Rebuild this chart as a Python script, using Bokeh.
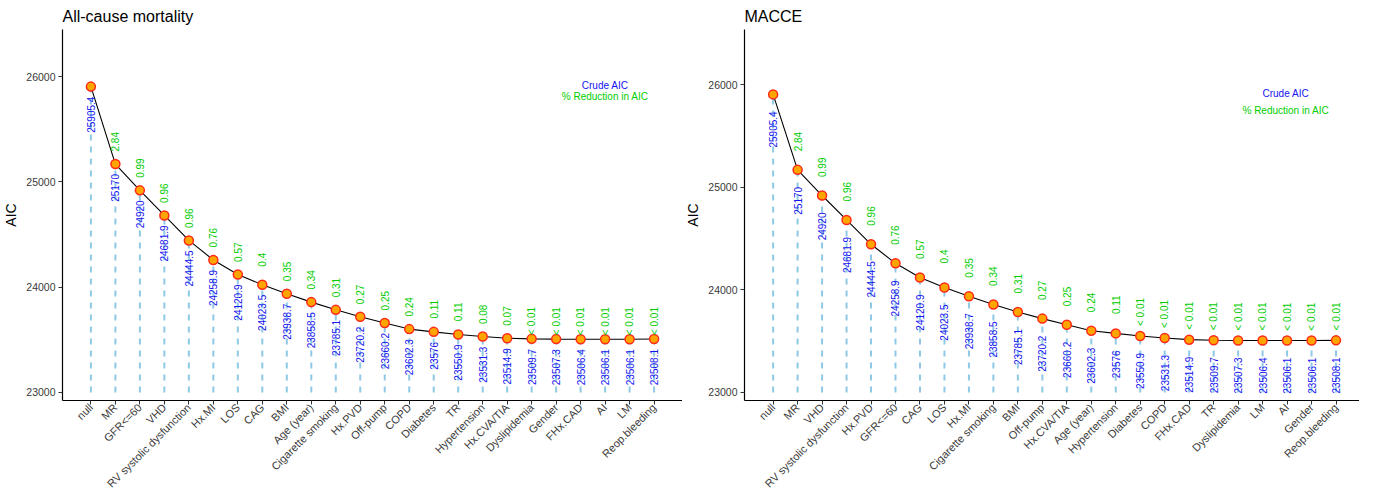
import math
from bokeh.plotting import figure
from bokeh.models import Range1d, FixedTicker, ColumnDataSource
from bokeh.layouts import row
from bokeh.core.properties import value
from bokeh.embed import file_html
from bokeh.resources import INLINE

# ---------------- data ----------------
left_title = "All-cause mortality"
left_categories = ["null", "MR", "GFR<=60", "VHD", "RV systolic dysfunction", "Hx.MI", "LOS",
                   "CAG", "BMI", "Age (year)", "Cigarette smoking", "Hx.PVD", "Off-pump", "COPD",
                   "Diabetes", "TR", "Hypertension", "Hx.CVA/TIA", "Dyslipidemia", "Gender",
                   "FHx.CAD", "AI", "LM", "Reop.bleeding"]
left_aic = [25905.4, 25170, 24920, 24681.9, 24444.5, 24258.9, 24120.9, 24023.5, 23938.7,
            23858.5, 23785.1, 23720.2, 23660.2, 23602.3, 23576, 23550.9, 23531.3, 23514.9,
            23509.7, 23507.3, 23506.4, 23506.1, 23506.1, 23508.1]
left_reduction = ["", "2.84", "0.99", "0.96", "0.96", "0.76", "0.57", "0.4", "0.35", "0.34",
                  "0.31", "0.27", "0.25", "0.24", "0.11", "0.11", "0.08", "0.07", "< 0.01",
                  "< 0.01", "< 0.01", "< 0.01", "< 0.01", "< 0.01"]

right_title = "MACCE"
right_categories = ["null", "MR", "VHD", "RV systolic dysfunction", "Hx.PVD", "GFR<=60", "CAG",
                    "LOS", "Hx.MI", "Cigarette smoking", "BMI", "Off-pump", "Hx.CVA/TIA",
                    "Age (year)", "Hypertension", "Diabetes", "COPD", "FHx.CAD", "TR",
                    "Dyslipidemia", "LM", "AI", "Gender", "Reop.bleeding"]
right_aic = [25905.4, 25170, 24920, 24681.9, 24444.5, 24258.9, 24120.9, 24023.5, 23938.7,
             23858.5, 23785.1, 23720.2, 23660.2, 23602.3, 23576, 23550.9, 23531.3, 23514.9,
             23509.7, 23507.3, 23506.4, 23506.1, 23506.1, 23508.1]
right_reduction = ["", "2.84", "0.99", "0.96", "0.96", "0.76", "0.57", "0.4", "0.35", "0.34",
                   "0.31", "0.27", "0.25", "0.24", "0.11", "< 0.01", "< 0.01", "< 0.01",
                   "< 0.01", "< 0.01", "< 0.01", "< 0.01", "< 0.01", "< 0.01"]

y_ticks = [23000, 24000, 25000, 26000]
segment_base = 23000
legend_labels = ["Crude AIC", "% Reduction in AIC"]

FONT = "Liberation Sans"
BLUE = "#1414F0"
GREEN = "#00CD00"


def make_panel(title, cats, aic, red, width, border_left, xr, yr, blue_off, green_off,
               legend_x, legend_y):
    n = len(cats)
    xs = list(range(n))
    src = ColumnDataSource(dict(x=xs, aic=aic, red=red, base=[segment_base] * n,
                                aic_txt=[("%g" % v) for v in aic]))
    p = figure(width=width, height=496, output_backend="svg", toolbar_location=None,
               x_range=Range1d(*xr), y_range=Range1d(*yr), title=title)
    p.min_border = 0
    p.min_border_left = border_left
    p.min_border_right = 0
    p.min_border_top = 0
    p.outline_line_color = None
    p.xgrid.visible = False
    p.ygrid.visible = False
    p.background_fill_color = "white"

    p.title.text_font = FONT
    p.title.text_font_size = "16px"
    p.title.text_font_style = "normal"
    p.title.text_color = "black"
    p.title.offset = 0

    # dashed drop lines
    p.segment(x0="x", y0="base", x1="x", y1="aic", source=src, line_color="#8FC9E6",
              line_width=2, line_dash="6 6")
    # curve
    p.line("x", "aic", source=src, line_color="black", line_width=1.1)
    # points
    p.scatter("x", "aic", source=src, size=9, fill_color="#FFA500", line_color="#FF2A1A",
              line_width=1.5)
    # crude AIC labels
    p.text("x", "aic", text="aic_txt", source=src, angle=math.pi / 2, text_align="right",
           text_baseline="middle", y_offset=blue_off, text_font=value(FONT),
           text_font_size="10px", text_color=BLUE)
    # reduction labels
    p.text("x", "aic", text="red", source=src, angle=math.pi / 2, text_align="right",
           text_baseline="middle", y_offset=-green_off, text_font=value(FONT),
           text_font_size="10px", text_color=GREEN)
    # legend texts
    p.text(x=[legend_x, legend_x], y=legend_y, text=legend_labels, text_align="center",
           text_baseline="middle", text_font=value(FONT), text_font_size="10px",
           text_color=[BLUE, GREEN])

    # axes
    p.xaxis.ticker = FixedTicker(ticks=xs)
    p.xaxis.major_label_overrides = {i: c for i, c in enumerate(cats)}
    p.xaxis.major_label_orientation = math.pi / 4
    p.yaxis.ticker = FixedTicker(ticks=y_ticks)
    p.yaxis.axis_label = "AIC"
    for ax in (p.xaxis[0], p.yaxis[0]):
        ax.axis_line_color = "black"
        ax.axis_line_width = 1.2
        ax.major_tick_line_color = "#333333"
        ax.major_tick_in = 0
        ax.major_tick_out = 4
        ax.minor_tick_line_color = None
        ax.major_label_text_font = FONT
        ax.major_label_text_color = "#3A3A3A"
    p.xaxis.major_label_standoff = 1
    p.xaxis.major_label_text_line_height = 0.9
    p.yaxis.major_label_standoff = 3
    p.xaxis.major_label_text_font_size = "11px"
    p.yaxis.major_label_text_font_size = "10.5px"
    p.yaxis.axis_label_text_font = FONT
    p.yaxis.axis_label_text_font_size = "14px"
    p.yaxis.axis_label_text_font_style = "normal"
    p.yaxis.axis_label_text_color = "black"
    p.yaxis.axis_label_standoff = 4
    return p


left = make_panel(left_title, left_categories, left_aic, left_reduction, 682, 54,
                  (-1.16, 24.16), (22924, 26448), 10, 32, 21.0, [25915, 25812])
right = make_panel(right_title, right_categories, right_aic, right_reduction, 677, 52,
                   (-1.17, 23.96), (22922, 26538), 17, 38, 20.95, [25913, 25750])

layout = row(left, right)
open("out.html", "w").write(file_html(layout, INLINE))
